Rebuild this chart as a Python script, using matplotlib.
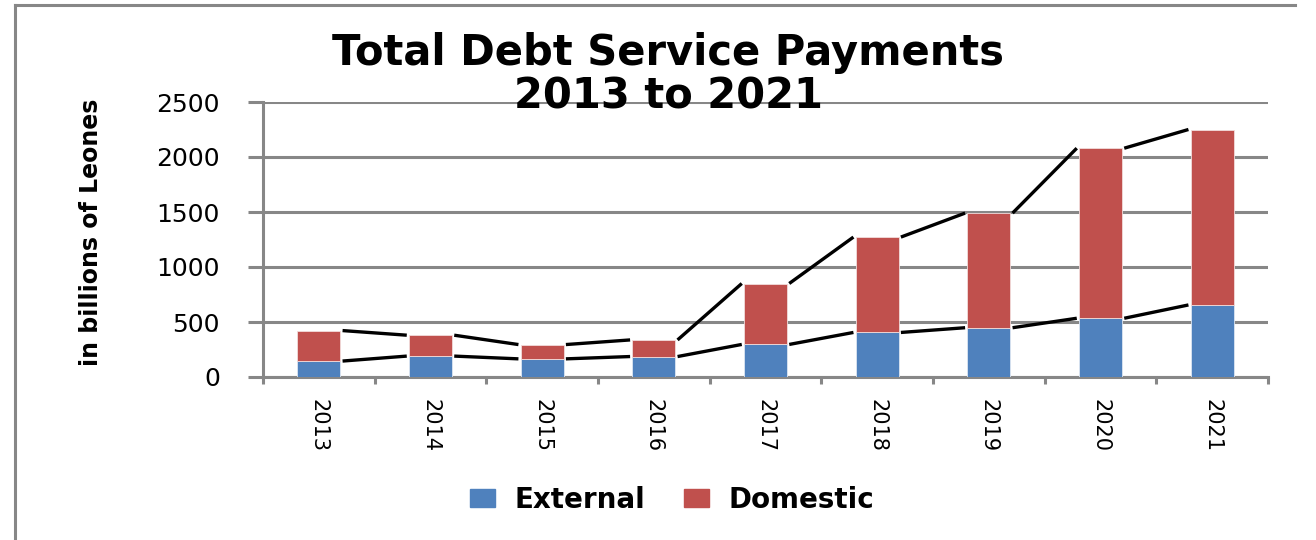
import numpy as np
import matplotlib
matplotlib.use('Agg')
import matplotlib.pyplot as plt
from matplotlib.patches import Patch
from matplotlib.lines import Line2D

# debt service payments, billions of Leones
years = ['2013', '2014', '2015', '2016', '2017', '2018', '2019', '2020', '2021']
external = [145, 190, 165, 186, 296, 405, 448, 534, 655]
domestic = [277, 190, 130, 151, 554, 867, 1042, 1546, 1595]

BLUE = '#4F81BD'
RED = '#C0504D'
GRID = '#878787'

#####################################################################################################
def draw_chart():
    ext = np.array(external, dtype=float)
    dom = np.array(domestic, dtype=float)
    total = ext + dom
    x = np.arange(len(years))
    w = 0.385

    fig = plt.figure(figsize=(13.16, 5.4), dpi=100)
    ax = fig.add_axes([263/1316, 1-377/540, 1005/1316, 275/540])

    ax.bar(x, ext, w, color=BLUE, edgecolor='#dce6f2', linewidth=0.6, zorder=3)
    ax.bar(x, dom, w, bottom=ext, color=RED, edgecolor='#f2dcdb', linewidth=0.6, zorder=3)

    # series lines joining the stack tops from one bar to the next
    for tops in (ext, total):
        for i in range(len(x) - 1):
            ax.plot([x[i] + w/2 + 0.02, x[i+1] - w/2 - 0.02], [tops[i], tops[i+1]],
                    color='black', lw=2.4, solid_capstyle='butt', zorder=4)

    ax.set_xlim(-0.5, len(years) - 0.5)
    ax.set_ylim(0, 2500)
    ax.set_yticks(range(0, 2501, 500))
    ax.yaxis.grid(True, color=GRID, lw=2.2, zorder=0)
    ax.set_axisbelow(True)

    for s in ('top', 'right'):
        ax.spines[s].set_visible(False)
    for s in ('left', 'bottom'):
        ax.spines[s].set_color(GRID)
        ax.spines[s].set_linewidth(2.2)

    ax.tick_params(axis='y', length=11, width=2.2, color=GRID, pad=20, labelsize=18)
    ax.set_xticks(x)
    ax.set_xticklabels(years, rotation=270, fontsize=15, va='top', ha='center')
    ax.set_xticks(np.arange(-0.5, len(years)), minor=True)
    ax.tick_params(axis='x', which='major', length=0, pad=16)
    ax.tick_params(axis='x', which='minor', length=5, width=2.2, color=GRID)

    ax.set_ylabel('in billions of Leones', fontsize=17, fontweight='bold')
    ax.yaxis.set_label_coords(-0.159, 0.527)

    fig.text(668/1316, 1-75/540, 'Total Debt Service Payments\n2013 to 2021',
             ha='center', va='center', fontsize=30, fontweight='bold',
             linespacing=1.05, zorder=10)

    handles = [Patch(color=BLUE, label='External'), Patch(color=RED, label='Domestic')]
    fig.legend(handles=handles, loc='center', bbox_to_anchor=(672/1316, 1-500/540),
               ncol=2, frameon=False, prop={'size': 20, 'weight': 'bold'},
               handlelength=0.9, handleheight=0.6, handletextpad=0.7,
               columnspacing=1.4)

    # chart frame
    fig.add_artist(Line2D([15/1316, 15/1316], [0, 1-5/540], color=GRID, lw=2.2))
    fig.add_artist(Line2D([15/1316, 1295/1316], [1-5/540, 1-5/540], color=GRID, lw=2.2))

    fig.savefig('out.png', dpi=100)

#####################################################################################################
def main():
    draw_chart()

if __name__ == '__main__':
    main()
